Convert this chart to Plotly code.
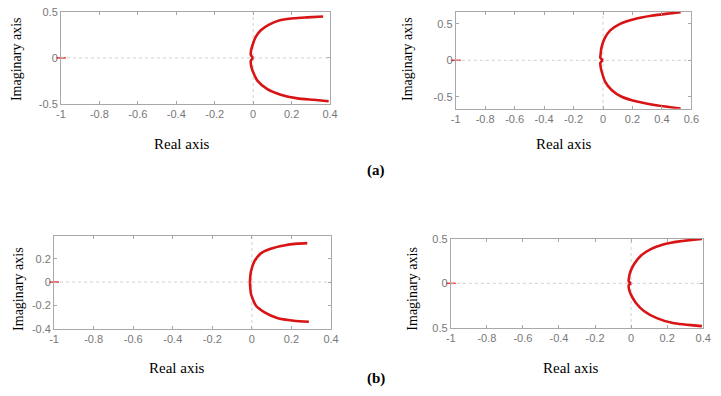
import plotly.graph_objects as go

W, H = 721, 396

# root locus branches (real part, imaginary part)
a1_top_x = [0.0, -0.012, -0.011, -0.003, 0.014, 0.04, 0.083, 0.143, 0.212, 0.28, 0.364]
a1_top_y = [0.0, 0.03, 0.08, 0.14, 0.23, 0.30, 0.36, 0.41, 0.43, 0.44, 0.45]
a1_bot_x = [0.0, -0.012, -0.011, -0.003, 0.023, 0.074, 0.143, 0.23, 0.315, 0.393]
a1_bot_y = [0.0, -0.03, -0.08, -0.14, -0.25, -0.34, -0.40, -0.44, -0.455, -0.47]

a2_top_x = [0.0, -0.018, -0.016, -0.011, 0.011, 0.049, 0.116, 0.216, 0.327, 0.438, 0.527]
a2_top_y = [0.0, 0.035, 0.09, 0.17, 0.30, 0.41, 0.50, 0.567, 0.61, 0.64, 0.66]
a2_bot_x = [0.0, -0.018, -0.016, -0.011, 0.016, 0.06, 0.127, 0.238, 0.371, 0.527]
a2_bot_y = [0.0, -0.035, -0.09, -0.14, -0.30, -0.41, -0.50, -0.57, -0.62, -0.66]

b1_top_x = [-0.01, -0.008, -0.005, 0.012, 0.045, 0.095, 0.162, 0.23, 0.28]
b1_top_y = [0.0, 0.05, 0.09, 0.175, 0.245, 0.285, 0.313, 0.328, 0.333]
b1_bot_x = [-0.01, -0.008, -0.005, 0.02, 0.062, 0.128, 0.212, 0.288]
b1_bot_y = [0.0, -0.05, -0.10, -0.20, -0.256, -0.306, -0.33, -0.339]

b2_top_x = [0.0, -0.013, -0.011, -0.004, 0.018, 0.054, 0.107, 0.178, 0.268, 0.393]
b2_top_y = [0.0, 0.02, 0.07, 0.13, 0.22, 0.31, 0.38, 0.435, 0.47, 0.497]
b2_bot_x = [0.0, -0.013, -0.011, 0.0, 0.027, 0.071, 0.143, 0.232, 0.393]
b2_bot_y = [0.0, -0.02, -0.07, -0.13, -0.22, -0.31, -0.39, -0.445, -0.48]

pole_x = [-1.0]
pole_y = [0.0]

# tick labels
x_ticks_04 = [-1, -0.8, -0.6, -0.4, -0.2, 0, 0.2, 0.4]
x_text_04 = ["-1", "-0.8", "-0.6", "-0.4", "-0.2", "0", "0.2", "0.4"]
x_ticks_06 = [-1, -0.8, -0.6, -0.4, -0.2, 0, 0.2, 0.4, 0.6]
x_text_06 = ["-1", "-0.8", "-0.6", "-0.4", "-0.2", "0", "0.2", "0.4", "0.6"]
y_ticks_05 = [-0.5, 0, 0.5]
y_text_05 = ["-0.5", "0", "0.5"]
y_text_05_cut = ["0.5", "0", "0.5"]
y_ticks_04 = [-0.4, -0.2, 0, 0.2]
y_text_04 = ["-0.4", "-0.2", "0", "0.2"]

RED = "#d81414"
TICK_FONT = dict(family="Liberation Sans, Arial", size=11, color="#777777")
SERIF = "Liberation Serif, Times New Roman"


def px_dom_x(a, b):
    return [a / W, b / W]


def px_dom_y(top, bottom):
    return [1 - bottom / H, 1 - top / H]


panels = [
    dict(xd=(57, 331), yd=(6, 101), xr=[-1, 0.4], yr=[-0.5, 0.5],
         xt=(x_ticks_04, x_text_04), yt=(y_ticks_05, y_text_05),
         br=[(a1_top_x, a1_top_y), (a1_bot_x, a1_bot_y)],
         ytitle=(12, 55), xtitle=(180, 142)),
    dict(xd=(459, 699), yd=(6, 106), xr=[-1, 0.6], yr=[-0.665, 0.665],
         xt=(x_ticks_06, x_text_06), yt=(y_ticks_05, y_text_05),
         br=[(a2_top_x, a2_top_y), (a2_bot_x, a2_bot_y)],
         ytitle=(410, 55), xtitle=(569, 142)),
    dict(xd=(50, 332), yd=(237, 333), xr=[-1, 0.4], yr=[-0.4, 0.395],
         xt=(x_ticks_04, x_text_04), yt=(y_ticks_04, y_text_04),
         br=[(b1_top_x, b1_top_y), (b1_bot_x, b1_bot_y)],
         ytitle=(13, 292), xtitle=(175, 373)),
    dict(xd=(454, 711), yd=(240, 332), xr=[-1, 0.4], yr=[-0.5, 0.5],
         xt=(x_ticks_04, x_text_04), yt=(y_ticks_05, y_text_05_cut),
         br=[(b2_top_x, b2_top_y), (b2_bot_x, b2_bot_y)],
         ytitle=(415, 292), xtitle=(576, 373)),
]

fig = go.Figure()
layout = dict(
    width=W, height=H,
    margin=dict(l=0, r=0, t=0, b=0),
    paper_bgcolor="white", plot_bgcolor="white",
    showlegend=False,
)
shapes = []
annotations = []

for i, p in enumerate(panels, start=1):
    xa = "x" if i == 1 else f"x{i}"
    ya = "y" if i == 1 else f"y{i}"
    axis_common = dict(
        showgrid=False, zeroline=False, showline=True, linecolor="#a8a8a8",
        linewidth=1, mirror="ticks", ticks="inside", ticklen=3,
        tickcolor="#a8a8a8", tickfont=TICK_FONT,
    )
    layout["xaxis" if i == 1 else f"xaxis{i}"] = dict(
        axis_common, domain=px_dom_x(*p["xd"]), range=p["xr"],
        tickvals=p["xt"][0], ticktext=p["xt"][1], anchor=ya,
    )
    layout["yaxis" if i == 1 else f"yaxis{i}"] = dict(
        axis_common, domain=px_dom_y(*p["yd"]), range=p["yr"],
        tickvals=p["yt"][0], ticktext=p["yt"][1], anchor=xa,
    )
    # dotted grid through the origin
    shapes.append(dict(type="line", xref=xa, yref=f"{ya} domain",
                       x0=0, x1=0, y0=0, y1=1,
                       line=dict(color="#d0d0d0", width=1, dash="dot"), layer="below"))
    shapes.append(dict(type="line", xref=f"{xa} domain", yref=ya,
                       x0=0, x1=1, y0=0, y1=0,
                       line=dict(color="#d0d0d0", width=1, dash="dot"), layer="below"))

    for bx, by in p["br"]:
        fig.add_trace(go.Scatter(
            x=bx, y=by, mode="lines", xaxis=xa, yaxis=ya,
            line=dict(color=RED, width=2.6, shape="spline", smoothing=0.6),
            hoverinfo="skip",
        ))
    fig.add_trace(go.Scatter(
        x=pole_x, y=pole_y, mode="markers", xaxis=xa, yaxis=ya,
        marker=dict(symbol="line-ew", size=7, line=dict(color="#ff3030", width=1.5)),
        cliponaxis=False, hoverinfo="skip",
    ))

    yx, yy = p["ytitle"]
    annotations.append(dict(
        text="Imaginary axis", xref="paper", yref="paper",
        x=yx / W, y=1 - yy / H, textangle=-90, showarrow=False,
        xanchor="center", yanchor="middle",
        font=dict(family=SERIF, size=14, color="black"),
    ))
    tx, ty = p["xtitle"]
    annotations.append(dict(
        text="Real axis", xref="paper", yref="paper",
        x=tx / W, y=1 - ty / H, showarrow=False,
        xanchor="center", yanchor="middle",
        font=dict(family=SERIF, size=15, color="black"),
    ))

for label, lx, ly in [("<b>(a)</b>", 378, 170), ("<b>(b)</b>", 378, 384)]:
    annotations.append(dict(
        text=label, xref="paper", yref="paper",
        x=lx / W, y=1 - ly / H, showarrow=False,
        xanchor="center", yanchor="middle",
        font=dict(family=SERIF, size=15, color="black"),
    ))

layout["shapes"] = shapes
layout["annotations"] = annotations
fig.update_layout(**layout)

fig.write_html("out.html", config={"displayModeBar": False},
               post_script="document.body.style.margin='0px';")
